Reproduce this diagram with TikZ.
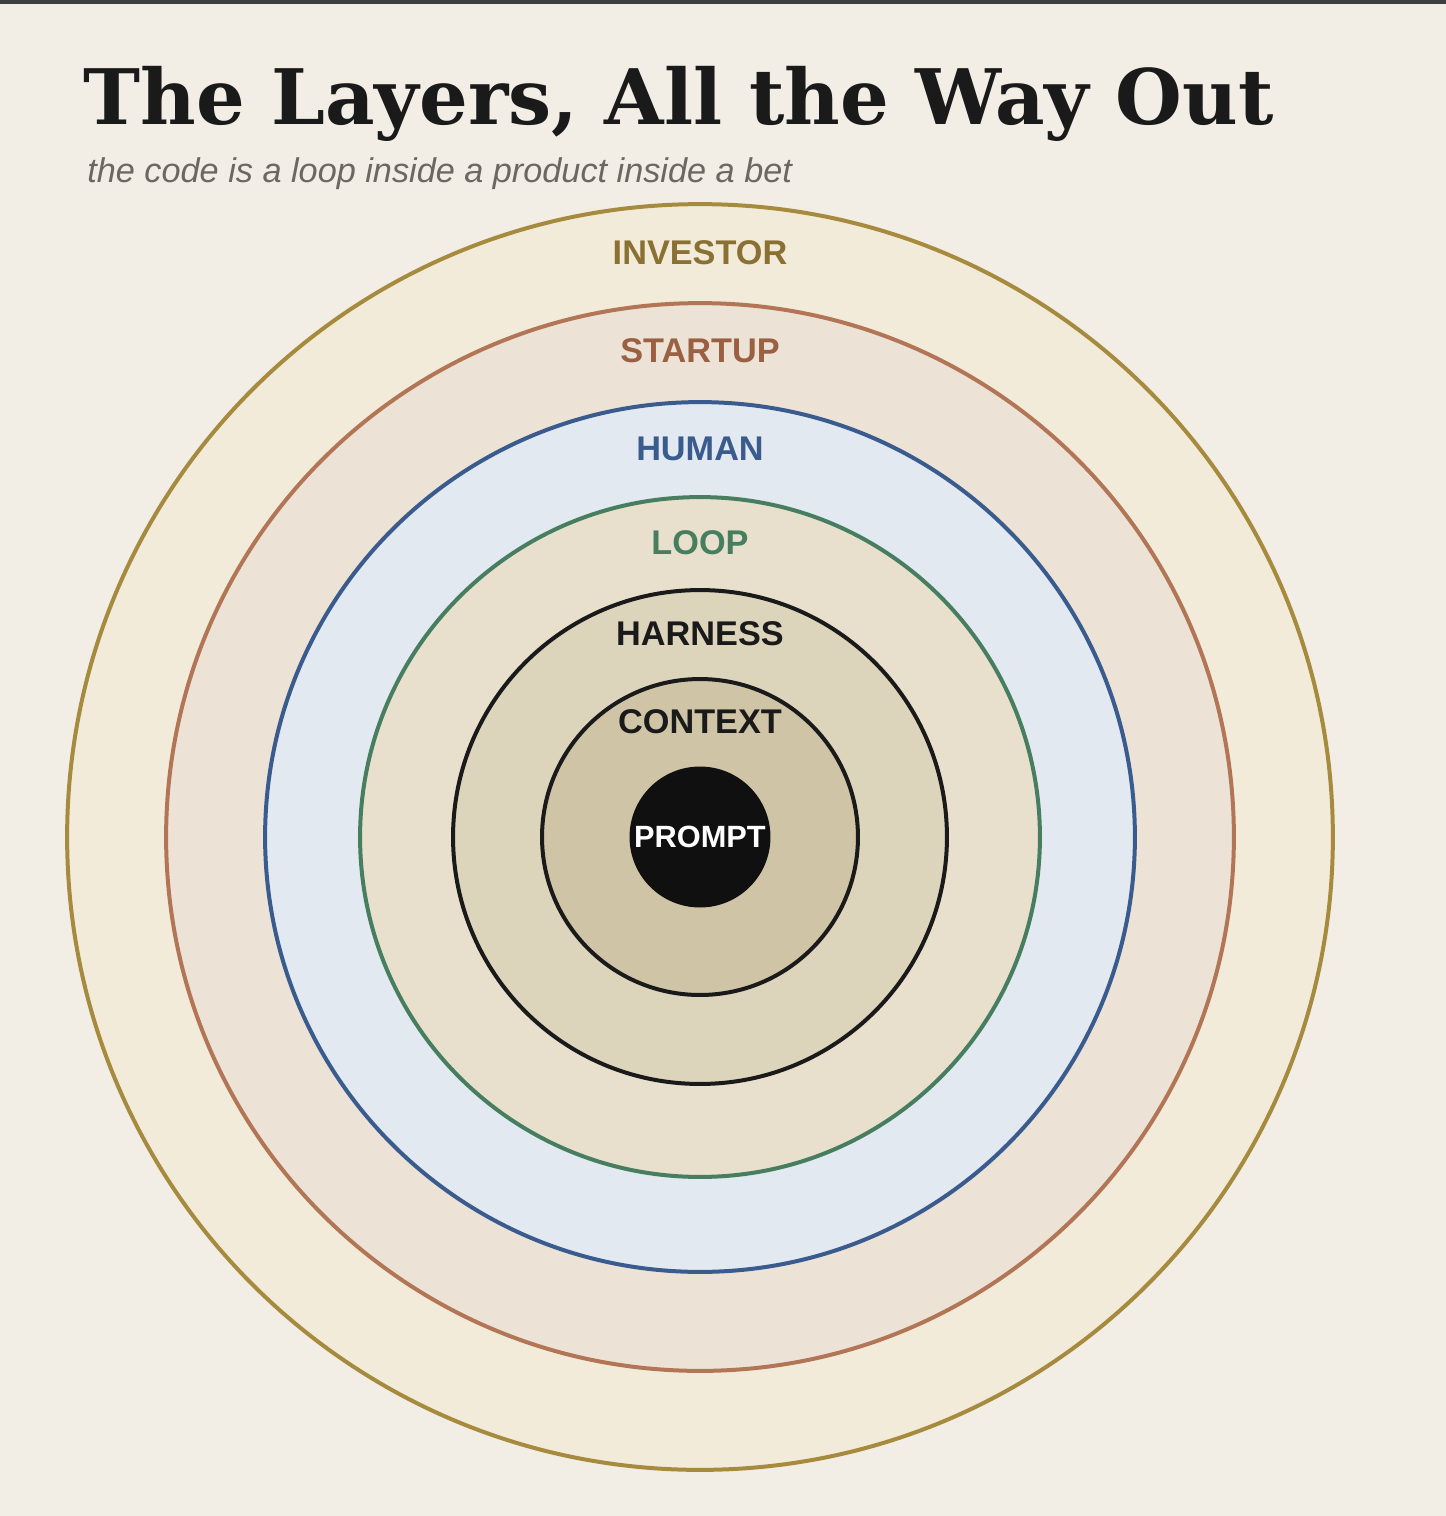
\documentclass[tikz,border=0pt]{standalone}
\usepackage{fontspec}
\setmainfont{Liberation Sans}
\newfontfamily\titlefont{DejaVu Serif}

\definecolor{paper}{HTML}{F2EDE5}
\definecolor{topbar}{HTML}{3E3E3E}
\definecolor{investorline}{HTML}{A68B3F}
\definecolor{investorfill}{HTML}{F3EBDA}
\definecolor{investortext}{HTML}{8A7032}
\definecolor{startupline}{HTML}{B27657}
\definecolor{startupfill}{HTML}{ECE2D6}
\definecolor{startuptext}{HTML}{9B5F42}
\definecolor{humanline}{HTML}{3A5B8D}
\definecolor{humanfill}{HTML}{E2E9F0}
\definecolor{loopline}{HTML}{467E5F}
\definecolor{loopfill}{HTML}{E8E0CC}
\definecolor{harnessfill}{HTML}{DDD4BC}
\definecolor{contextfill}{HTML}{CFC4A6}
\definecolor{inkblack}{HTML}{1A1A1A}
\definecolor{subgray}{HTML}{6B6862}

\begin{document}
\begin{tikzpicture}[
    x=0.02cm, y=-0.02cm,
    ring/.style={draw, circle, line width=0.08cm, inner sep=0pt},
    tag/.style={font=\bfseries\fontsize{19.5}{24}\selectfont, inner sep=0pt}
]
% Hintergrund
\useasboundingbox (0,0) rectangle (1446,1516);
\fill[paper] (0,0) rectangle (1446,1516);
\fill[topbar] (0,0) rectangle (1446,4);

% Titel
\node[anchor=base west, inner sep=0pt, text=inkblack, font=\titlefont\bfseries\fontsize{43.6}{48}\selectfont] (title) at (83,124) {The Layers, All the Way Out};
\node[anchor=base west, inner sep=0pt, text=subgray, font=\itshape\fontsize{19.5}{23}\selectfont] (subtitle) at (87,182) {the code is a loop inside a product inside a bet};

% Ringe
\node[ring, draw=investorline, fill=investorfill, minimum size=25.32cm] (investor) at (700,837) {};
\node[ring, draw=startupline, fill=startupfill, minimum size=21.36cm] (startup) at (700,837) {};
\node[ring, draw=humanline, fill=humanfill, minimum size=17.4cm] (human) at (700,837) {};
\node[ring, draw=loopline, fill=loopfill, minimum size=13.6cm] (loop) at (700,837) {};
\node[ring, draw=inkblack, fill=harnessfill, minimum size=9.88cm] (harness) at (700,837) {};
\node[ring, draw=inkblack, fill=contextfill, minimum size=6.32cm] (context) at (700,837) {};
\node[circle, fill=inkblack!60!black, minimum size=2.82cm, inner sep=0pt] (prompt) at (700,837) {};

% Beschriftungen
\node[tag, text=investortext] (investorlabel) at (700,253) {INVESTOR};
\node[tag, text=startuptext] (startuplabel) at (700,351) {STARTUP};
\node[tag, text=humanline] (humanlabel) at (700,449) {HUMAN};
\node[tag, text=loopline] (looplabel) at (700,543) {LOOP};
\node[tag, text=inkblack] (harnesslabel) at (700,634) {HARNESS};
\node[tag, text=inkblack] (contextlabel) at (700,722) {CONTEXT};
\node[tag, text=white, font=\bfseries\fontsize{17.5}{22}\selectfont] (promptlabel) at (prompt) {PROMPT};

\end{tikzpicture}
\end{document}
